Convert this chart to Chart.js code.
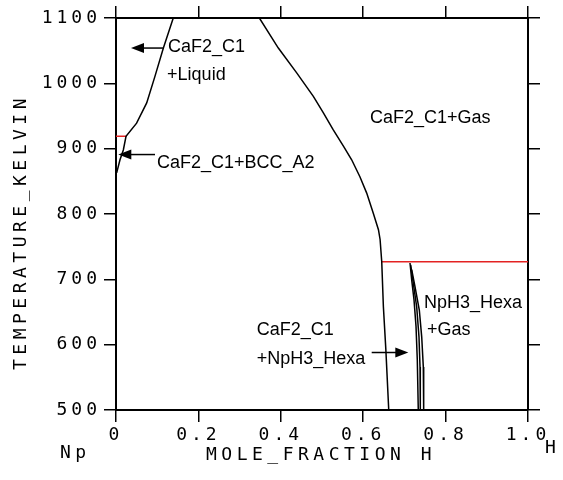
<!DOCTYPE html>
<html>
<head>
<meta charset="utf-8">
<script src="https://cdn.jsdelivr.net/npm/chart.js@4/dist/chart.umd.min.js"></script>
<style>html,body{margin:0;padding:0;background:#fff}</style>
</head>
<body>
<canvas id="chart" width="563" height="480"></canvas>
<script>
// axis ticks
const xTicks = [0, 0.2, 0.4, 0.6, 0.8, 1.0];
const xTickLabels = ['0', '0.2', '0.4', '0.6', '0.8', '1.0'];
const yTicks = [500, 600, 700, 800, 900, 1000, 1100];

// phase boundaries (mole fraction H, temperature K)
const leftX = [0.139, 0.115, 0.0947, 0.0745, 0.050, 0.0243, 0.0178, 0.0097, 0.0016];
const leftT = [1100, 1054, 1011, 970, 939, 919, 898, 883, 863];

const gasX = [0.348, 0.394, 0.4386, 0.479, 0.503, 0.527, 0.552, 0.572, 0.592, 0.6085, 0.6245, 0.637, 0.641, 0.645, 0.649, 0.655, 0.662];
const gasT = [1100, 1054, 1016, 980, 955, 929, 904, 883, 857, 832, 801, 776, 761, 727, 658, 592, 500];

const hexaAX = [0.7136, 0.7177, 0.7233, 0.7282, 0.7313, 0.7337];
const hexaAT = [725, 699, 669, 628, 577, 500];
const hexaBX = [0.7153, 0.7216, 0.7298, 0.7354, 0.7379, 0.7386];
const hexaBT = [722, 694, 658, 612, 566, 500];
const hexaCX = [0.7177, 0.7257, 0.7362, 0.7420, 0.7459, 0.7468];
const hexaCT = [715, 689, 653, 612, 566, 500];

// invariant lines (red)
const bccInvX = [0, 0.026];
const bccInvT = [919, 919];
const hexaInvX = [0.645, 1.0];
const hexaInvT = [727, 727];

// region labels
const labelText = ['CaF2_C1', '+Liquid', 'CaF2_C1+BCC_A2', 'CaF2_C1+Gas', 'NpH3_Hexa', '+Gas', 'CaF2_C1', '+NpH3_Hexa'];
const labelX = [0.126, 0.124, 0.0995, 0.6165, 0.7476, 0.755, 0.3415, 0.3415];
const labelT = [1056, 1013, 878, 947, 664, 623, 623, 578];

// arrows
const arrowFromX = [0.114, 0.0947, 0.6206];
const arrowToX = [0.0364, 0.0056, 0.7095];
const arrowT = [1054, 891, 588];

const pts = (xs, ts) => xs.map((x, i) => ({ x: x, y: ts[i] }));

function line(xs, ts, color) {
  return {
    data: pts(xs, ts),
    borderColor: color,
    borderWidth: 1.5,
    pointRadius: 0,
    fill: false,
    tension: 0
  };
}

const monoFont = '"DejaVu Sans Mono", monospace';

const textPlugin = {
  id: 'texts',
  beforeDraw(chart) {
    chart.ctx.letterSpacing = '4px';
  },
  afterDraw(chart) {
    const ctx = chart.ctx;
    const xs = chart.scales.x, ys = chart.scales.y;
    ctx.save();
    ctx.fillStyle = '#000';
    ctx.strokeStyle = '#000';

    // region labels
    ctx.letterSpacing = '0px';
    ctx.font = '18px "Liberation Sans", Arial, sans-serif';
    ctx.textAlign = 'left';
    ctx.textBaseline = 'middle';
    labelText.forEach((t, i) => {
      ctx.fillText(t, xs.getPixelForValue(labelX[i]), ys.getPixelForValue(labelT[i]));
    });

    // arrows
    ctx.lineWidth = 1.5;
    arrowFromX.forEach((fx, i) => {
      const x0 = xs.getPixelForValue(fx);
      const x1 = xs.getPixelForValue(arrowToX[i]);
      const y = ys.getPixelForValue(arrowT[i]);
      const dir = x1 > x0 ? 1 : -1;
      ctx.beginPath();
      ctx.moveTo(x0, y);
      ctx.lineTo(x1 - dir * 10, y);
      ctx.stroke();
      ctx.beginPath();
      ctx.moveTo(x1, y);
      ctx.lineTo(x1 - dir * 13, y - 5);
      ctx.lineTo(x1 - dir * 13, y + 5);
      ctx.closePath();
      ctx.fill();
    });

    // axis titles and component names
    ctx.font = '18px ' + monoFont;
    ctx.letterSpacing = '4.5px';
    ctx.textAlign = 'center';
    ctx.fillText('MOLE_FRACTION H', 321, 455);
    ctx.textAlign = 'left';
    ctx.fillText('Np', 60, 453);
    ctx.fillText('H', 545, 448);
    ctx.save();
    ctx.translate(21, 232);
    ctx.rotate(-Math.PI / 2);
    ctx.textAlign = 'center';
    ctx.fillText('TEMPERATURE_KELVIN', 0, 0);
    ctx.restore();

    ctx.restore();
  }
};

const gridOpts = {
  drawOnChartArea: false,
  drawTicks: true,
  tickLength: 12,
  color: '#000',
  lineWidth: 1.5
};
const borderOpts = { display: true, color: '#000', width: 2 };

new Chart(document.getElementById('chart'), {
  type: 'line',
  data: {
    datasets: [
      line(leftX, leftT, '#000'),
      line(gasX, gasT, '#000'),
      line(hexaAX, hexaAT, '#000'),
      line(hexaBX, hexaBT, '#000'),
      line(hexaCX, hexaCT, '#000'),
      line(bccInvX, bccInvT, '#e32222'),
      line(hexaInvX, hexaInvT, '#e32222')
    ]
  },
  options: {
    responsive: false,
    animation: false,
    layout: { padding: 0 },
    plugins: { legend: { display: false }, tooltip: { enabled: false } },
    scales: {
      x: {
        type: 'linear', position: 'bottom', min: 0, max: 1,
        afterBuildTicks: s => { s.ticks = xTicks.map(v => ({ value: v })); },
        afterFit: s => { s.height = 70; },
        ticks: {
          color: '#000', padding: 3, maxRotation: 0, autoSkip: false,
          font: { family: monoFont, size: 18 },
          callback: (v, i) => xTickLabels[i]
        },
        grid: gridOpts, border: borderOpts
      },
      x2: {
        type: 'linear', position: 'top', min: 0, max: 1,
        afterBuildTicks: s => { s.ticks = xTicks.map(v => ({ value: v })); },
        afterFit: s => { s.height = 18; },
        ticks: { display: false },
        grid: gridOpts, border: borderOpts
      },
      y: {
        type: 'linear', position: 'left', min: 500, max: 1100,
        afterBuildTicks: s => { s.ticks = yTicks.map(v => ({ value: v })); },
        afterFit: s => { s.width = 116; },
        ticks: {
          color: '#000', padding: 3, autoSkip: false,
          font: { family: monoFont, size: 18 },
          callback: v => String(v)
        },
        grid: gridOpts, border: borderOpts
      },
      y2: {
        type: 'linear', position: 'right', min: 500, max: 1100,
        afterBuildTicks: s => { s.ticks = yTicks.map(v => ({ value: v })); },
        afterFit: s => { s.width = 35; },
        ticks: { display: false },
        grid: gridOpts, border: borderOpts
      }
    }
  },
  plugins: [textPlugin]
});
</script>
</body>
</html>
